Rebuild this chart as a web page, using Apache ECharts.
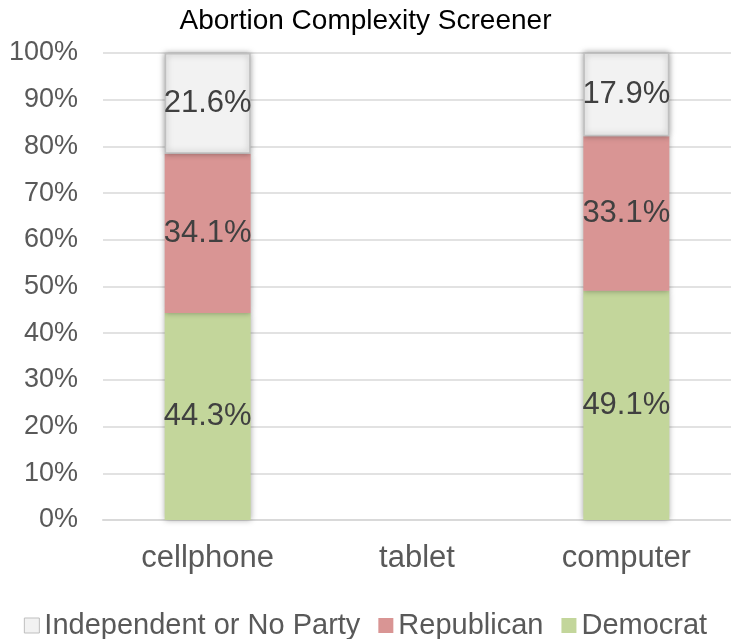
<!DOCTYPE html>
<html><head><meta charset="utf-8">
<script src="https://cdn.jsdelivr.net/npm/echarts@6/dist/echarts.min.js"></script>
<style>html,body{margin:0;padding:0;background:#fff}#c{width:731px;height:639px}</style>
</head><body><div id="c"></div>
<script>
const categories = ['cellphone', 'tablet', 'computer'];
const democrat = [44.3, null, 49.1];
const republican = [34.1, null, 33.1];
const independent = [21.6, null, 17.9];
const yTicks = [0, 10, 20, 30, 40, 50, 60, 70, 80, 90, 100];

const chart = echarts.init(document.getElementById('c'));
const font = '"Liberation Sans", Arial, sans-serif';
function ser(name, data, color, border) {
  return {
    name, type: 'bar', stack: 's', data, barWidth: 86,
    itemStyle: { color, borderColor: border || color, borderWidth: border ? 1.5 : 0,
      shadowColor: 'rgba(0,0,0,0.35)', shadowBlur: 6 },
    label: { show: true, position: 'inside', formatter: p => p.value.toFixed(1) + '%',
      color: '#404040', fontSize: 31, fontFamily: font }
  };
}
chart.setOption({
  animation: false,
  title: { text: 'Abortion Complexity Screener', left: 'center', top: 2,
    textStyle: { fontSize: 28, fontWeight: 'normal', color: '#000', fontFamily: font } },
  grid: { left: 103, right: 0, top: 53, bottom: 119 },
  legend: {
    top: 606, left: 'center', itemWidth: 15, itemHeight: 15, itemGap: 18,
    textStyle: { fontSize: 29, color: '#595959', fontFamily: font },
    data: [
      { name: 'Independent or No Party', icon: 'rect', itemStyle: { color: '#f2f2f2', borderColor: '#bfbfbf', borderWidth: 1 } },
      { name: 'Republican', icon: 'rect' },
      { name: 'Democrat', icon: 'rect' }
    ]
  },
  xAxis: { type: 'category', data: categories,
    axisLine: { lineStyle: { color: '#d9d9d9', width: 2 } }, axisTick: { show: false },
    axisLabel: { fontSize: 31, color: '#595959', fontFamily: font, margin: 23 } },
  yAxis: { type: 'value', min: 0, max: 100, interval: 10,
    axisLabel: { formatter: v => yTicks.includes(v) ? v + '%' : '', fontSize: 27, color: '#595959', fontFamily: font, margin: 25 },
    splitLine: { lineStyle: { color: '#d9d9d9', width: 1.5 } } },
  series: [
    ser('Democrat', democrat, '#c3d69b'),
    ser('Republican', republican, '#d99594'),
    ser('Independent or No Party', independent, '#f2f2f2', '#bfbfbf')
  ]
});
</script></body></html>
